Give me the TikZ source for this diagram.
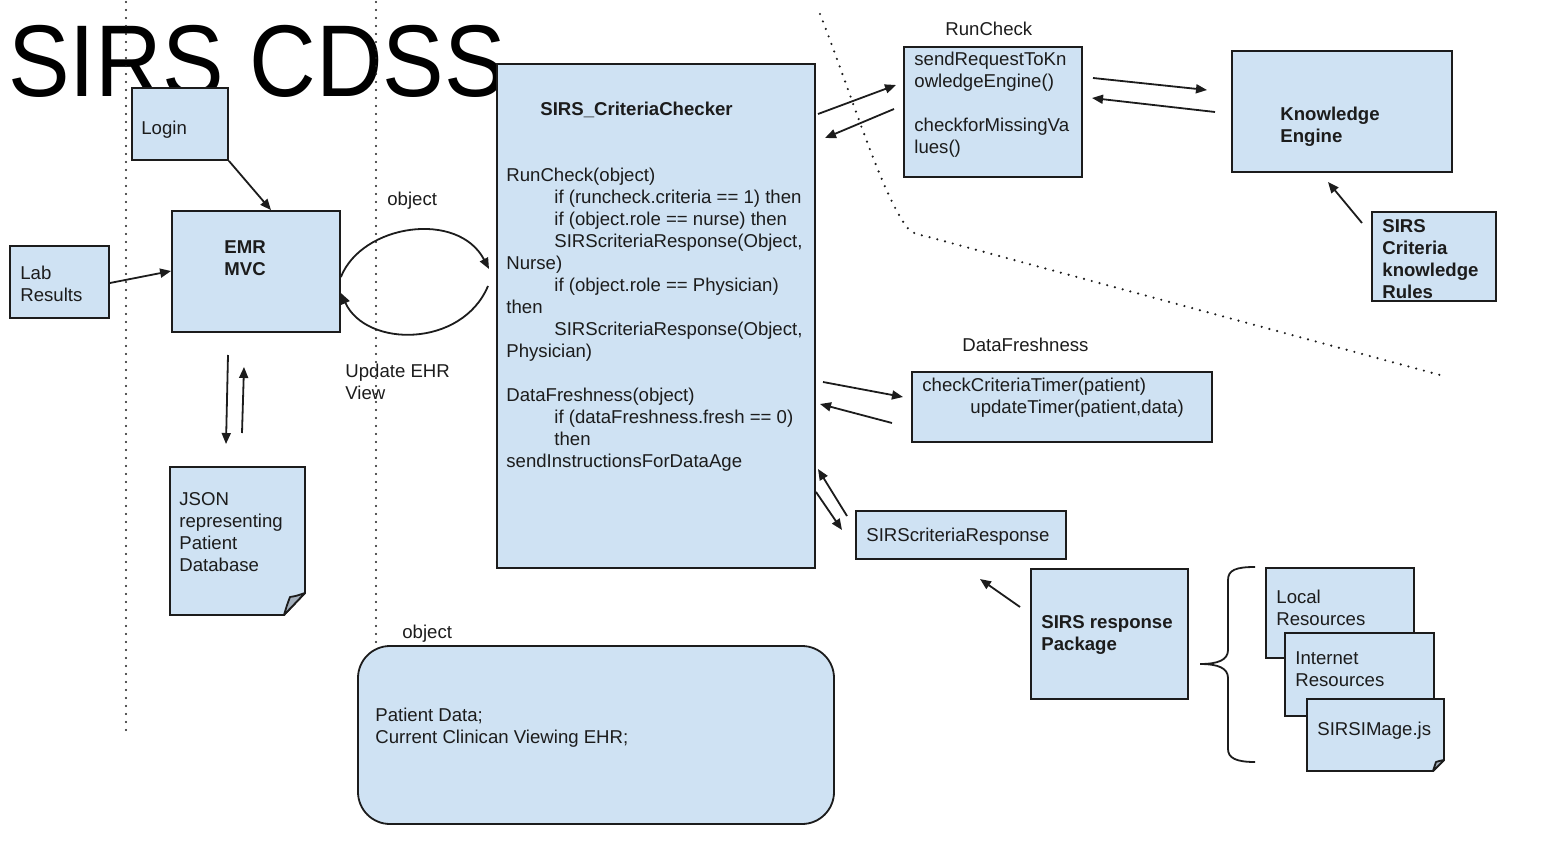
\documentclass[tikz,border=0pt]{standalone}
\usepackage{fontspec}
\setmainfont{Liberation Sans}
\usetikzlibrary{arrows.meta,fit,calc}
\definecolor{boxfill}{HTML}{CFE2F3}
\definecolor{ink}{HTML}{1C1C1C}
\definecolor{foldgray}{HTML}{A3AFBC}

\begin{document}
\begin{tikzpicture}[x=0.5pt,y=-0.5pt,
  box/.style={draw=ink, fill=boxfill, line width=0.9pt, inner sep=0pt},
  area/.style={draw=none, inner sep=0pt},
  txt/.style={anchor=west, inner sep=0pt, align=left, text=ink,
              font=\fontsize{9.3}{11}\selectfont},
  btxt/.style={txt, font=\fontsize{9.3}{11}\selectfont\bfseries},
  dotline/.style={draw=ink, line width=1.2pt, dash pattern=on 0pt off 4pt, line cap=round},
  arr/.style={draw=ink, line width=0.9pt, -{Triangle[length=5.5pt,width=4.5pt]}},
  fold/.style={draw=ink, fill=foldgray, line width=0.9pt, line join=round}
]
\useasboundingbox (0,0) rectangle (1546,850);

% ---- title (partly covered by the criteria checker) ----
\node[anchor=base west, inner sep=0pt, text=black, font=\fontsize{51}{51}\selectfont] (title) at (8,97) {\scalebox{0.905}[1]{SIRS CDSS}};

% ---- swim-lane separators ----
\draw[dotline] (126,2) -- (126,732);
\draw[dotline] (376,2) -- (376,642);
\draw[dotline] (820,14) .. controls (850,90) and (880,190) .. (906,226)
  .. controls (910,232) and (915,234) .. (925,236) -- (1440,375);

% ---- left column ----
\node[box, fit={(132,88) (228,160)}] (login) {};
\node[txt] (login-t) at (141,130) {Login};

\node[box, fit={(172,211) (340,332)}] (emr) {};
\node[btxt] (emr-t) at (224,258) {EMR\\MVC};

\node[box, fit={(10,246) (109,318)}] (lab) {};
\node[txt] (lab-t) at (20,284) {Lab\\Results};

% JSON document with a turned-down corner
\node[area, fit={(170,467) (305,615)}] (json) {};
\draw[box] (170,467) -- (305,467) -- (305,593) -- (284,615) -- (170,615) -- cycle;
\draw[fold] (305,593) .. controls (296,596) .. (290,597) .. controls (287,605) .. (284,615) -- cycle;
\node[txt] (json-t) at (179,532) {JSON\\representing\\Patient\\Database};

% ---- criteria checker ----
\node[box, fit={(497,64) (815,568)}] (checker) {};
\node[btxt] (checker-h) at (540,110) {SIRS\_CriteriaChecker};
\node[txt, anchor=north west] (checker-t) at (506,168) {RunCheck(object)\\
\hspace*{24pt}if (runcheck.criteria == 1) then\\
\hspace*{24pt}if (object.role == nurse) then\\
\hspace*{24pt}SIRScriteriaResponse(Object,\\
Nurse)\\
\hspace*{24pt}if (object.role == Physician)\\
then\\
\hspace*{24pt}SIRScriteriaResponse(Object,\\
Physician)\\[11pt]
DataFreshness(object)\\
\hspace*{24pt}if (dataFreshness.fresh == 0)\\
\hspace*{24pt}then\\
sendInstructionsForDataAge};

% ---- object passed to the checker ----
\node[txt] (obj-top) at (387,201) {object};
\node[txt] (update) at (345,382) {Update EHR\\View};
\coordinate (c-in) at (489,269);
\coordinate (c-out) at (488,286);
\draw[arr] (emr.east |- 0,277) .. controls (362,224) and (458,210) .. (c-in);
\draw[arr] (c-out) .. controls (462,348) and (366,348) .. (emr.east |- 0,293);

\node[txt] (obj-bot) at (402,634) {object};
\node[box, rounded corners=16pt, fit={(358,646) (834,824)}] (object) {};
\node[txt] (object-t) at (375,728) {Patient Data;\\Current Clinican Viewing EHR;};

% ---- RunCheck and knowledge engine ----
\node[txt] (rc-l) at (945,29) {RunCheck};
\node[box, fit={(904,47) (1082,177)}] (runcheck) {};
\node[txt, anchor=north west] (runcheck-t) at (914,52) {sendRequestToKn\\owledgeEngine()\\[11pt]checkforMissingVa\\lues()};

\node[box, fit={(1232,51) (1452,172)}] (ke) {};
\node[btxt] (ke-t) at (1280,127) {Knowledge\\Engine};

\node[box, fit={(1372,212) (1496,301)}] (rules) {};
\node[btxt] (rules-t) at (1382,259) {SIRS\\Criteria\\knowledge\\Rules};

% ---- data freshness ----
\node[txt] (df-l) at (962,345) {DataFreshness};
\node[box, fit={(912,372) (1212,442)}] (df) {};
\node[txt] (df-t1) at (922,387) {checkCriteriaTimer(patient)};
\node[txt] (df-t2) at (970,409) {updateTimer(patient,data)};

% ---- response ----
\node[box, fit={(856,511) (1066,559)}] (resp) {};
\node[txt] (resp-t) at (866,537) {SIRScriteriaResponse};

\node[box, fit={(1031,569) (1188,699)}] (pkg) {};
\node[btxt] (pkg-t) at (1041,635) {SIRS response\\Package};

% brace grouping the package contents
\coordinate (br-top) at (1255,567);
\coordinate (br-tip) at (1200,664);
\coordinate (br-bot) at (1255,762);
\draw[draw=ink, line width=0.9pt] (br-top) .. controls (1236,567) and (1228,570) .. (1228,580)
  -- (1228,650) .. controls (1228,660) and (1218,664) .. (br-tip)
  .. controls (1218,664) and (1228,668) .. (1228,678)
  -- (1228,749) .. controls (1228,758) and (1236,762) .. (br-bot);

\node[box, fit={(1266,568) (1414,658)}] (local) {};
\node[txt] (local-t) at (1276,608) {Local\\Resources};
\node[box, fit={(1285,633) (1434,716)}] (inet) {};
\node[txt] (inet-t) at (1295,669) {Internet\\Resources};

\node[area, fit={(1307,699) (1444,771)}] (img) {};
\draw[box] (1307,699) -- (1444,699) -- (1444,760) -- (1433,771) -- (1307,771) -- cycle;
\draw[fold] (1444,760) .. controls (1439,761) .. (1436,762) .. controls (1434,766) .. (1433,771) -- cycle;
\node[txt] (img-t) at (1317,731) {SIRSIMage.js};

% ---- connectors ----
\draw[arr] (login.south east) -- (emr.north -| 271,0);
\draw[arr] (lab.east |- 0,283) -- (emr.west |- 0,271);

\coordinate (emr-d1) at (228,355);
\coordinate (json-d1) at (226,444);
\coordinate (json-u1) at (242,433);
\coordinate (emr-u1) at (244,367);
\draw[arr] (emr-d1) -- (json-d1);
\draw[arr] (json-u1) -- (emr-u1);

\coordinate (ck-rc1) at (818,114);
\coordinate (rc-ck1) at (896,85);
\coordinate (rc-ck2) at (894,109);
\coordinate (ck-rc2) at (825,138);
\draw[arr] (ck-rc1) -- (rc-ck1);
\draw[arr] (rc-ck2) -- (ck-rc2);

\coordinate (rc-ke1) at (1093,78);
\coordinate (ke-rc1) at (1207,90);
\coordinate (ke-rc2) at (1215,112);
\coordinate (rc-ke2) at (1092,98);
\draw[arr] (rc-ke1) -- (ke-rc1);
\draw[arr] (ke-rc2) -- (rc-ke2);

\coordinate (rules-ke1) at (1362,223);
\coordinate (ke-rules1) at (1328,182);
\draw[arr] (rules-ke1) -- (ke-rules1);

\coordinate (ck-df1) at (823,382);
\coordinate (df-ck1) at (903,397);
\coordinate (df-ck2) at (892,423);
\coordinate (ck-df2) at (820,404);
\draw[arr] (ck-df1) -- (df-ck1);
\draw[arr] (df-ck2) -- (ck-df2);

\coordinate (resp-ck1) at (847,516);
\coordinate (ck-resp1) at (818,469);
\coordinate (ck-resp2) at (816,492);
\coordinate (resp-ck2) at (842,530);
\draw[arr] (resp-ck1) -- (ck-resp1);
\draw[arr] (ck-resp2) -- (resp-ck2);

\coordinate (pkg-resp1) at (1020,607);
\coordinate (resp-pkg1) at (980,579);
\draw[arr] (pkg-resp1) -- (resp-pkg1);
\end{tikzpicture}
\end{document}
